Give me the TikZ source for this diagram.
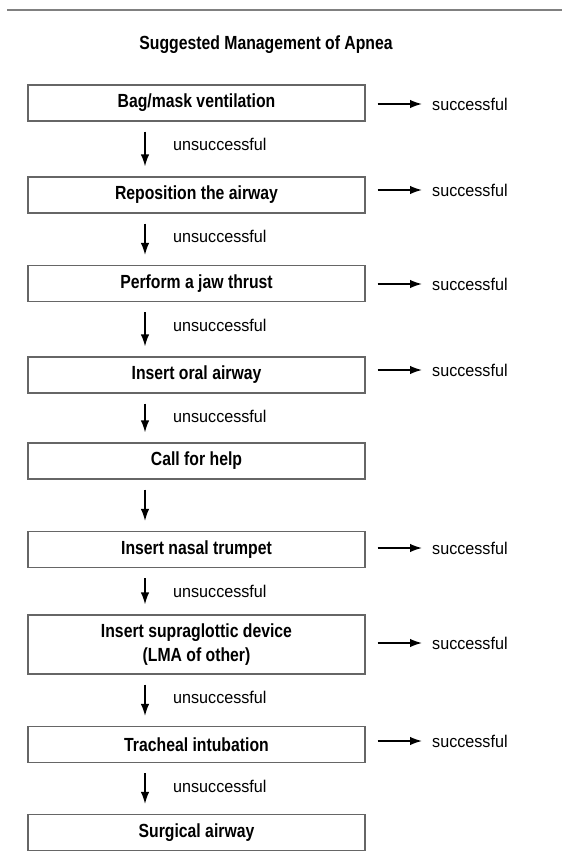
\documentclass[tikz,border=0pt]{standalone}
\usepackage{fontspec}
\setmainfont{Liberation Sans}
\newfontfamily\condfont{Liberation Sans}[FakeStretch=0.83]
\newfontfamily\labfont{Liberation Sans}[FakeStretch=0.95]
\usetikzlibrary{arrows.meta}
\begin{document}
\begin{tikzpicture}[x=1pt,y=-1pt,
  stepbox/.style={draw=black!60, line width=1.2pt, minimum width=337pt, minimum height=36pt,
    inner sep=0pt, align=center, font=\condfont\bfseries\fontsize{19}{22}\selectfont},
  lab/.style={anchor=west, inner sep=4pt, font=\labfont\fontsize{17}{20}\selectfont},
  arr/.style={line width=1.5pt, -{Latex[length=12pt,width=8.5pt]}},
  downarr/.style={arr, shorten <=10pt, shorten >=10pt}
]
\useasboundingbox (0,0) rectangle (562,868);
\draw[black!50, line width=2pt] (7,10) coordinate (r1) -- (562,10) coordinate (r2);
\node[font=\condfont\bfseries\fontsize{19}{22}\selectfont] (title) at (266,45) {Suggested Management of Apnea};

\node[stepbox] (b1) at (196.5,103) {Bag/mask ventilation};
\node[stepbox] (b2) at (196.5,195) {Reposition the airway};
\node[stepbox] (b3) at (196.5,283.5) {Perform a jaw thrust};
\node[stepbox] (b4) at (196.5,375) {Insert oral airway};
\node[stepbox] (b5) at (196.5,461) {Call for help};
\node[stepbox] (b6) at (196.5,549.5) {Insert nasal trumpet};
\node[stepbox, minimum height=59pt, font=\condfont\bfseries\fontsize{19}{24}\selectfont] (b7) at (196.5,644.5) {Insert supraglottic device\\(LMA of other)};
\node[stepbox] (b8) at (196.5,744.5) {Tracheal intubation};
\node[stepbox] (b9) at (196.5,832.5) {Surgical airway};

% successful branches
\node[lab] (s1) at (428,104) {successful};
\node[lab] (s2) at (428,190) {successful};
\node[lab] (s3) at (428,284) {successful};
\node[lab] (s4) at (428,370) {successful};
\node[lab] (s6) at (428,548) {successful};
\node[lab] (s7) at (428,643) {successful};
\node[lab] (s8) at (428,741) {successful};
\foreach \i in {1,2,3,4,6,7,8}{
  \draw[arr, shorten <=12pt, shorten >=6pt] (b\i.east |- s\i.west) -- (s\i.west);
}

% unsuccessful path
\foreach \a/\b in {1/2,2/3,3/4,4/5,5/6,6/7,7/8,8/9}{
  \draw[downarr] ([xshift=-51.5pt]b\a.south) -- ([xshift=-51.5pt]b\b.north);
}
\foreach \a in {1,2,3,4,6,7,8}{
  \node[lab] (u\a) at ([xshift=-27.5pt,yshift=-23pt]b\a.south) {unsuccessful};
}
\end{tikzpicture}
\end{document}
